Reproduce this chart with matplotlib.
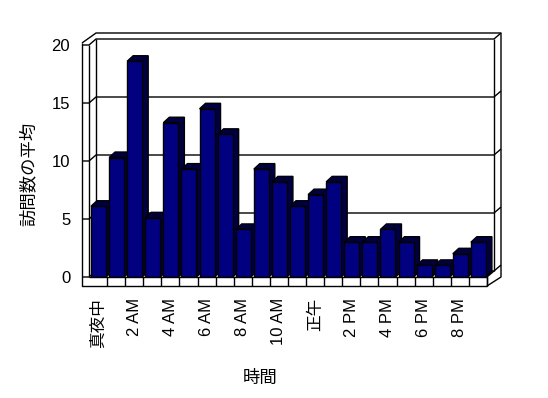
import matplotlib
matplotlib.use("Agg")
import matplotlib.pyplot as plt
from matplotlib.patches import Polygon, Rectangle

plt.rcParams['font.family'] = ['Liberation Sans', 'Noto Sans CJK JP', 'DejaVu Sans']

# ---- data ----
hours = list(range(22))
avg_visits = [6.1, 10.3, 18.6, 5.1, 13.3, 9.3, 14.5, 12.3, 4.1, 9.3, 8.2,
              6.1, 7.1, 8.2, 3.0, 3.0, 4.1, 3.0, 1.0, 1.0, 2.0, 3.0]
tick_positions = [0, 2, 4, 6, 8, 10, 12, 14, 16, 18, 20]
tick_labels = ['真夜中', '2 AM', '4 AM', '6 AM', '8 AM', '10 AM', '正午',
               '2 PM', '4 PM', '6 PM', '8 PM']
y_ticks = [0, 5, 10, 15, 20]
y_label = '訪問数の平均'
x_label = '時間'

W, H = 548, 398
fig = plt.figure(figsize=(W / 100, H / 100), dpi=100)
fig.patch.set_facecolor('white')

# axes geometry (pixels)
L, R, B, T = 89, 487, 277, 45
ax = fig.add_axes([L / W, 1 - B / H, (R - L) / W, (B - T) / H])
ax.set_xlim(-0.5, len(hours) - 0.5)
ax.set_ylim(0, 20)
ax.patch.set_visible(False)
for s in ax.spines.values():
    s.set_visible(False)

ppx = (R - L) / len(hours)
ppy = (B - T) / 20.0

def P(x, y, ox=0.0, oy=0.0):
    return (x + ox / ppx, y + oy / ppy)

xmin, xmax = -0.5, len(hours) - 0.5
ymax = 20
D = (7, 6)      # back wall offset (right, up) in px
TH = (7, 6)     # wall thickness offset
lw = 1.0
kw = dict(color='black', lw=lw, clip_on=False, solid_capstyle='butt')

def line(pts, z=1):
    xs = [p[0] for p in pts]
    ys = [p[1] for p in pts]
    ax.plot(xs, ys, zorder=z, **kw)

# back wall gridlines
for v in y_ticks:
    line([P(xmin, v, -7, 0), P(xmin, v), P(xmin, v, *D), P(xmax, v, *D),
          P(xmax, v, D[0] + TH[0], D[1] + TH[1])])
# back wall edges
line([P(xmin, 0, *D), P(xmin, ymax, *D)])
line([P(xmax, 0, *D), P(xmax, ymax, *D)])
# outer top and right
line([P(xmin, ymax, -7, 2), P(xmin, ymax, D[0], D[1] + TH[1]),
      P(xmax, ymax, D[0] + TH[0], D[1] + TH[1]),
      P(xmax, 0, D[0] + TH[0], 0), P(xmax, 0, 0, -9)])
# left wall strip
line([P(xmin, ymax, -7, 2), P(xmin, 0, -7, -9), P(xmax, 0, 0, -9)])
line([P(xmin, 0), P(xmin, ymax)])
# floor front face
line([P(xmin, 0), P(xmax, 0), P(xmax, 0, 0, -9)], z=5)
line([P(xmax, 0), P(xmax, 0, *D)], z=1)
for i in range(len(hours)):
    xb = i + 0.5
    line([P(xb, 0), P(xb, 0, 0, -9)], z=5)

# bars
front_color = '#000080'
depth_color = '#000040'
bw = 0.83
x_off = -0.39
dx, dy = 6, 5.5
for i, (h, v) in enumerate(zip(hours, avg_visits)):
    x0 = h + x_off
    x1 = x0 + bw
    z = 2 + i * 0.01
    poly = Polygon([P(x0, v), P(x0, v, dx, dy), P(x1, v, dx, dy),
                    P(x1, 0, dx, dy), P(x1, 0), P(x1, v)],
                   closed=True, facecolor=depth_color, edgecolor='black',
                   lw=lw, zorder=z, clip_on=False)
    ax.add_patch(poly)
ax.bar([h + x_off for h in hours], avg_visits, width=bw, align='edge',
       color=front_color, edgecolor='black', linewidth=lw, zorder=3)
# re-layer: draw fronts and depths in order so later bars cover earlier depths
for c in ax.containers:
    for j, r in enumerate(c.patches):
        r.set_zorder(2.005 + j * 0.01)

ax.set_yticks(y_ticks)
ax.set_yticklabels([str(v) for v in y_ticks])
ax.set_xticks(tick_positions)
ax.set_xticklabels(tick_labels, rotation=90, va='top', ha='center')
ax.tick_params(axis='y', length=0, pad=13.5, labelsize=12)
ax.tick_params(axis='x', length=0, pad=15, labelsize=12)

fig.text(28 / W, 1 - 174 / H, y_label, rotation=90, ha='center', va='center',
         fontsize=12.5)
fig.text(260 / W, 1 - 378 / H, x_label, ha='center', va='center',
         fontsize=12.5)

fig.savefig('out.png', dpi=100, facecolor='white')
